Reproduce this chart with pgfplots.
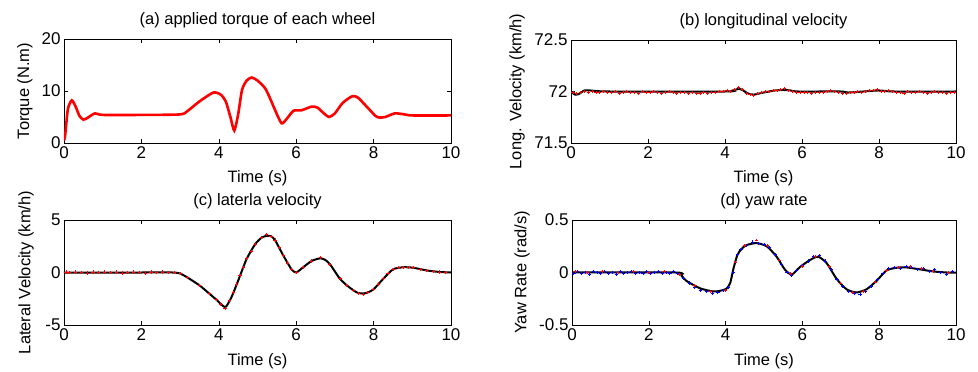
\documentclass[border=0pt]{standalone}
\usepackage{pgfplots}
\pgfplotsset{compat=1.18}
\usepackage{fontspec}
\setmainfont{Liberation Sans}
\pgfplotsset{
  mystyle/.style={
    scale only axis,
    anchor=south west,
    xmin=0, xmax=10,
    xtick={0,2,4,6,8,10},
    tick align=inside,
    major tick length=4pt,
    tick style={black, line width=0.6pt},
    axis line style={black, line width=0.7pt},
    /pgf/number format/assume math mode=true,
    /pgf/number format/fixed,
    tick label style={font=\fontsize{17}{20}\selectfont},
    label style={font=\fontsize{16.5}{19}\selectfont},
    title style={font=\fontsize{16.5}{19}\selectfont, at={(axis description cs:0.5,1)}, anchor=south, yshift=2pt},
    xlabel={Time (s)},
  }
}
\begin{document}
\begin{tikzpicture}
\useasboundingbox (0,0) rectangle (978pt,372pt);
% (a)
\begin{axis}[mystyle, at={(64pt,229pt)}, width=387pt, height=104pt,
  ymin=0, ymax=20, ytick={0,10,20},
  title={(a) applied torque of each wheel},
  ylabel={Torque (N.m)},
  ylabel style={at={(axis description cs:-0.101,0.5)}, anchor=center},
  xlabel style={at={(axis description cs:0.5,-0.34)}, anchor=center}]
\addplot[red, line width=2.6pt, smooth, tension=0.4] coordinates {
(0,0.5) (0.03,1.5) (0.1,6.5) (0.2,8.2) (0.3,7.0) (0.4,5.2) (0.5,4.5) (0.6,4.8)
(0.8,5.7) (1.0,5.4) (2.0,5.4) (3.0,5.5) (3.2,6.2) (3.5,8.0) (3.86,9.7) (4.05,9.3)
(4.18,8.0) (4.3,5.0) (4.4,2.4) (4.5,5.5) (4.6,10.2) (4.72,12.0) (4.85,12.6) (5.0,12.0)
(5.19,10.6) (5.3,9.0) (5.45,6.4) (5.62,3.8) (5.75,4.6) (5.93,6.2) (6.14,6.3) (6.4,7.0)
(6.55,6.8) (6.7,5.8) (6.85,5.0) (7.0,5.7) (7.2,7.7) (7.45,9.0) (7.6,8.7) (7.82,7.0)
(8.05,5.2) (8.15,4.9) (8.3,5.0) (8.55,5.7) (8.8,5.5) (9.0,5.3) (10,5.3)};
\end{axis}
% (b)
\begin{axis}[mystyle, at={(571pt,229pt)}, width=385pt, height=103pt,
  ymin=71.5, ymax=72.5, ytick={71.5,72,72.5},
  title={(b) longitudinal velocity},
  ylabel={Long. Velocity (km/h)},
  ylabel style={at={(axis description cs:-0.140,0.5)}, anchor=center},
  xlabel style={at={(axis description cs:0.5,-0.34)}, anchor=center}]
\addplot[red, only marks, mark=+, mark size=1.6pt, line width=0.8pt] coordinates {
(0.05,71.99) (0.15,71.98) (0.25,71.99) (0.35,72.0) (0.45,71.99) (0.55,72.0) (0.65,71.99)
(0.75,71.99) (0.85,72.0) (0.95,71.99) (1.05,71.99) (1.15,72.0) (1.25,71.98) (1.35,71.99)
(1.45,72.0) (1.55,71.99) (1.65,71.99) (1.75,71.98) (1.85,72.0) (1.95,71.99) (2.05,71.99)
(2.15,72.0) (2.25,71.99) (2.35,71.98) (2.45,71.99) (2.55,72.0) (2.65,71.99) (2.75,71.98)
(2.85,71.99) (2.95,71.99) (3.05,71.98) (3.15,71.99) (3.25,71.98) (3.35,71.98) (3.45,71.99)
(3.55,71.98) (3.65,71.99) (3.75,71.99) (3.85,72.0) (3.95,72.0) (4.05,72.01) (4.15,72.0)
(4.25,72.02) (4.35,72.04) (4.45,72.02) (4.55,71.98) (4.65,71.97) (4.75,71.96) (4.85,71.98)
(4.95,71.99) (5.05,72.0) (5.15,72.0) (5.25,72.01) (5.35,72.01) (5.45,72.02) (5.55,72.03)
(5.65,72.01) (5.75,72.0) (5.85,71.99) (5.95,71.99) (6.05,71.99) (6.15,71.99) (6.25,71.98)
(6.35,71.99) (6.45,71.99) (6.55,71.99) (6.65,72.0) (6.75,72.01) (6.85,72.0) (6.95,71.99)
(7.05,71.98) (7.15,71.98) (7.25,71.99) (7.35,71.99) (7.45,72.0) (7.55,71.99) (7.65,72.0)
(7.75,72.01) (7.85,72.01) (7.95,72.02) (8.05,72.0) (8.15,72.0) (8.25,72.01) (8.35,72.0)
(8.45,71.99) (8.55,71.99) (8.65,71.98) (8.75,72.0) (8.85,71.99) (8.95,71.99) (9.05,72.0)
(9.15,71.99) (9.25,71.98) (9.35,71.99) (9.45,72.0) (9.55,71.99) (9.65,71.99) (9.75,71.98)
(9.85,71.99) (9.95,71.99)};
\addplot[black, line width=2pt, smooth, tension=0.4] coordinates {
(0,72.0) (0.1,71.97) (0.2,71.975) (0.35,72.01) (0.5,72.01) (1,72.0) (4.0,72.0)
(4.2,72.01) (4.35,72.025) (4.45,72.015) (4.6,71.98) (4.75,71.97) (5.0,71.99)
(5.3,72.01) (5.5,72.015) (5.7,72.01) (5.9,72.0) (7.0,72.0) (7.2,71.99) (7.6,72.0)
(8.0,72.01) (8.4,72.0) (10,72.0)};
\end{axis}
% (c)
\begin{axis}[mystyle, at={(64pt,47pt)}, width=387pt, height=105pt,
  ymin=-5, ymax=5, ytick={-5,0,5},
  title={(c) laterla velocity},
  ylabel={Lateral Velocity (km/h)},
  ylabel style={at={(axis description cs:-0.098,0.5)}, anchor=center},
  xlabel style={at={(axis description cs:0.5,-0.343)}, anchor=center}]
\addplot[red, only marks, mark=+, mark size=1.6pt, line width=0.8pt] coordinates {
(0.05,0.05) (0.15,0) (0.3,0.05) (0.45,0) (0.6,-0.05) (0.75,0.05) (0.9,0) (1.05,0.05)
(1.2,0) (1.35,0.05) (1.5,-0.05) (1.65,0) (1.8,0.05) (1.95,0) (2.1,-0.05) (2.25,0.05)
(2.4,0) (2.55,0.05) (2.7,0) (2.85,0) (3.0,-0.1) (3.2,-0.5) (3.51,-1.25) (3.75,-2.0)
(3.94,-2.6) (4.05,-3.0) (4.16,-3.4) (4.28,-2.7) (4.38,-1.9) (4.46,-1.1) (4.55,-0.3)
(4.64,0.5) (4.72,1.3) (4.83,2.0) (4.94,2.7) (5.1,3.3) (5.24,3.6) (5.35,3.45) (5.45,3.1)
(5.56,2.4) (5.67,1.6) (5.78,0.9) (5.88,0.3) (6.0,0.0) (6.18,0.5) (6.4,1.1) (6.62,1.4)
(6.87,0.8) (7.13,-0.6) (7.3,-1.2) (7.48,-1.7) (7.6,-2.0) (7.73,-2.1) (7.85,-1.9) (8.0,-1.6)
(8.12,-1.1) (8.25,-0.6) (8.37,-0.1) (8.5,0.3) (8.65,0.45) (8.77,0.5) (8.9,0.45) (9.03,0.45)
(9.2,0.3) (9.37,0.2) (9.55,0.1) (9.7,0.05) (9.85,0.0)};
\addplot[black, line width=2pt, smooth, tension=0.4] coordinates {
(0,0) (1,0) (2,0) (2.8,0) (3.0,-0.1) (3.2,-0.5) (3.51,-1.25) (3.75,-2.0) (3.94,-2.6)
(4.16,-3.3) (4.28,-2.7) (4.38,-1.9) (4.55,-0.3) (4.72,1.3) (4.94,2.7) (5.1,3.3)
(5.24,3.5) (5.35,3.45) (5.45,3.1) (5.67,1.6) (5.88,0.3) (6.0,0.0) (6.18,0.5) (6.4,1.1)
(6.62,1.35) (6.75,1.2) (6.87,0.8) (7.0,0.1) (7.13,-0.6) (7.3,-1.2) (7.48,-1.7)
(7.6,-1.95) (7.73,-2.0) (7.85,-1.9) (8.0,-1.6) (8.25,-0.6) (8.5,0.3) (8.77,0.5)
(9.03,0.45) (9.37,0.2) (9.7,0.05) (10,0)};
\end{axis}
% (d)
\begin{axis}[mystyle, at={(572pt,47pt)}, width=384pt, height=105pt,
  ymin=-0.5, ymax=0.5, ytick={-0.5,0,0.5},
  title={(d) yaw rate},
  ylabel={Yaw Rate (rad/s)},
  ylabel style={at={(axis description cs:-0.130,0.5)}, anchor=center},
  xlabel style={at={(axis description cs:0.5,-0.343)}, anchor=center}]
\addplot[blue, only marks, mark=+, mark size=1.6pt, line width=0.9pt] coordinates {
(0.05,-0.01) (0.15,0.01) (0.25,-0.01) (0.35,0.0) (0.45,-0.015) (0.55,0.01) (0.65,0.0)
(0.75,-0.01) (0.85,0.01) (0.95,-0.01) (1.05,0.0) (1.15,-0.015) (1.25,0.01) (1.35,-0.01)
(1.45,0.0) (1.55,0.01) (1.65,-0.01) (1.75,0.0) (1.85,-0.01) (1.95,0.01) (2.05,-0.01)
(2.15,0.0) (2.25,0.01) (2.35,-0.01) (2.45,0.0) (2.55,-0.01) (2.65,0.01) (2.75,-0.01)
(2.9,-0.06) (3.05,-0.1) (3.2,-0.14) (3.35,-0.17) (3.5,-0.18) (3.65,-0.2) (3.8,-0.19)
(3.95,-0.17) (4.08,-0.14) (4.2,0.0) (4.3,0.17) (4.4,0.22) (4.55,0.26) (4.7,0.29)
(4.85,0.28) (5.0,0.27) (5.15,0.24) (5.3,0.17) (5.45,0.08) (5.6,0.0) (5.72,-0.03)
(5.85,0.02) (6.0,0.07) (6.15,0.11) (6.3,0.15) (6.45,0.16) (6.6,0.11) (6.75,0.03)
(6.9,-0.07) (7.05,-0.13) (7.2,-0.18) (7.35,-0.2) (7.5,-0.21) (7.65,-0.18) (7.8,-0.13)
(7.95,-0.07) (8.1,-0.01) (8.25,0.04) (8.4,0.05) (8.55,0.04) (8.7,0.06) (8.85,0.05)
(9.0,0.03) (9.15,0.04) (9.3,0.01) (9.45,0.03) (9.6,0.0) (9.75,-0.02) (9.9,0.01)};
\addplot[red, only marks, mark=+, mark size=1.4pt, line width=0.8pt] coordinates {
(0.1,0.01) (0.4,0.0) (0.8,0.01) (1.2,0.0) (1.6,0.01) (2.0,0.0) (2.4,0.01) (2.8,-0.02)
(3.2,-0.12) (3.6,-0.18) (4.0,-0.17) (4.25,0.1) (4.5,0.26) (4.8,0.31) (5.1,0.26)
(5.4,0.12) (5.7,-0.01) (6.0,0.06) (6.35,0.15) (6.7,0.06) (7.0,-0.1) (7.3,-0.19)
(7.6,-0.18) (7.9,-0.09) (8.2,0.02) (8.5,0.05) (8.8,0.06) (9.1,0.04) (9.4,0.01) (9.8,0.0)};
\addplot[black, line width=2pt, smooth, tension=0.4] coordinates {
(0,0) (2.7,0) (2.85,-0.03) (2.98,-0.08) (3.33,-0.15) (3.67,-0.18) (3.85,-0.175)
(4.02,-0.155) (4.12,-0.1) (4.2,0.03) (4.3,0.16) (4.4,0.22) (4.54,0.26) (4.8,0.28)
(5.07,0.25) (5.33,0.15) (5.54,0.03) (5.72,-0.02) (5.93,0.05) (6.2,0.12) (6.41,0.15)
(6.63,0.09) (6.89,-0.06) (7.15,-0.16) (7.41,-0.19) (7.67,-0.16) (7.93,-0.08)
(8.19,0.02) (8.45,0.045) (8.67,0.05) (9.06,0.03) (9.41,0.01) (9.76,0) (10,0)};
\end{axis}
\end{tikzpicture}
\end{document}
